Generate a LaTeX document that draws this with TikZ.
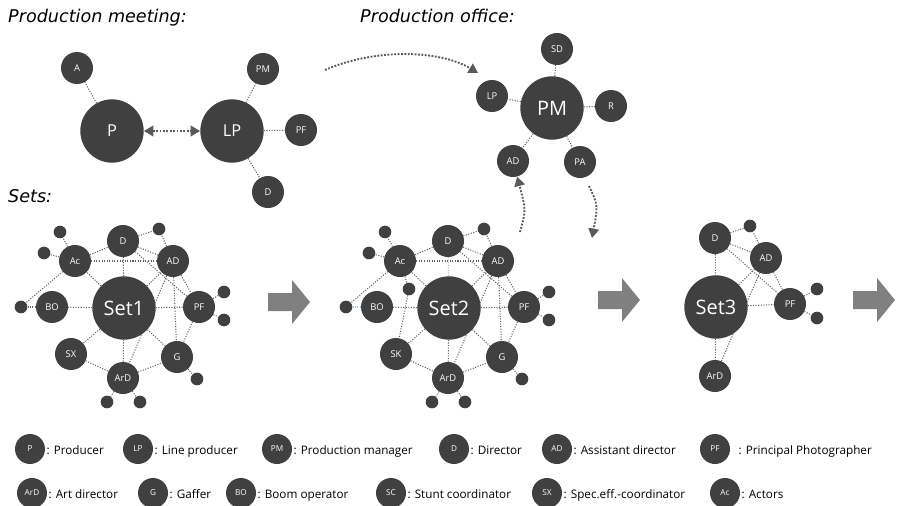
\documentclass[tikz,border=0pt]{standalone}
\usepackage{fontspec}
\setmainfont{Open Sans}
\newfontfamily\headfont{DejaVu Sans}
\usetikzlibrary{arrows.meta,positioning,backgrounds}
\definecolor{nodegray}{HTML}{404040}
\definecolor{linkgray}{HTML}{606060}
\definecolor{linkblue}{HTML}{A8C0D8}
\definecolor{arrowgray}{HTML}{808080}
\definecolor{flowgray}{HTML}{5A5A5A}
\begin{document}
\begin{tikzpicture}[x=0.03cm,y=-0.03cm]
	\tikzset{
		big/.style={circle,fill=nodegray,text=white,inner sep=0pt,minimum size=1.9cm,font=\fontsize{14}{16}\selectfont},
		hub/.style={big,font=\fontsize{17}{19}\selectfont},
		role/.style={circle,fill=nodegray,text=white,inner sep=0pt,minimum size=0.96cm,font=\fontsize{8}{9}\selectfont},
		extra/.style={circle,fill=nodegray,inner sep=0pt,minimum size=0.38cm},
		key/.style={role,minimum size=0.9cm,font=\fontsize{7}{8}\selectfont},
		keytext/.style={inner sep=0pt,anchor=base west,font=\fontsize{10}{12}\selectfont},
		head/.style={anchor=base west,inner sep=0pt,font=\headfont\itshape\fontsize{15}{17}\selectfont},
		link/.style={draw=linkgray,line width=0.9pt,line cap=butt,dash pattern=on 0.9pt off 1.3pt},
		flow/.style={draw=flowgray,line width=1.6pt,line cap=butt,dash pattern=on 1.6pt off 1.3pt,-{Triangle[length=8pt,width=9pt]}},
		blockarrow/.pic={\fill[arrowgray] (0,-9)--(24,-9)--(24,-22)--(42,0)--(24,22)--(24,9)--(0,9)--cycle;}
	}
	\useasboundingbox (0,0) rectangle (901,505);
	% headings
	\node[head] (hmeet) at (8,23) {Production meeting:};
	\node[head] (hoffice) at (360,23) {Production office:};
	\node[head] (hsets) at (8,202) {Sets:};
	% production meeting
	\node[big] (P) at (112,131) {P};
	\node[role] (A) at (77,68) {A};
	\node[big] (LP) at (232,131) {LP};
	\node[role] (LPpm) at (263,69) {PM};
	\node[role] (LPpf) at (301,130) {PF};
	\node[role] (LPd) at (268,192) {D};
	\draw[link] (P) -- (A);
	\foreach \r in {LPpm,LPpf,LPd}
		\draw[link] (LP) -- (\r);
	\draw[flow,{Triangle[length=8pt,width=9pt]}-{Triangle[length=8pt,width=9pt]}] (P) -- (LP);
	% production office
	\node[hub] (PM) at (552,108) {PM};
	\node[role] (oSD) at (557,49) {SD};
	\node[role] (oLP) at (492,96) {LP};
	\node[role] (oR) at (611,106) {R};
	\node[role] (oAD) at (513,161) {AD};
	\node[role] (oPA) at (580,162) {PA};
	\foreach \r in {oSD,oLP,oR,oAD,oPA}
		\draw[link] (PM) -- (\r);
	\coordinate (meetout) at (325,70);
	\coordinate (officein) at (478,73);
	\draw[flow] (meetout) .. controls (375,48) and (440,50) .. (officein);
	% sets 1 and 2
	\foreach \n/\dx/\fx/\vc in {1/0/SX/linkgray,2/325/SK/linkblue}{
		\begin{scope}[shift={(\dx,0)}]
			\node[hub] (s\n-Set) at (124,308) {Set\n};
			\node[role] (s\n-D) at (123,241) {D};
			\node[role] (s\n-Ac) at (75,261) {Ac};
			\node[role] (s\n-AD) at (173,261) {AD};
			\node[role] (s\n-PF) at (199,307) {PF};
			\node[role] (s\n-G) at (177,357) {G};
			\node[role] (s\n-ArD) at (123,378) {ArD};
			\node[role] (s\n-FX) at (71,354) {\fx};
			\node[role] (s\n-BO) at (52,307) {BO};
			\node[extra] (s\n-d1) at (60,232) {};
			\node[extra] (s\n-d2) at (44,253) {};
			\node[extra] (s\n-d3) at (159,229) {};
			\node[extra] (s\n-d4) at (21,307) {};
			\node[extra] (s\n-d5) at (224,292) {};
			\node[extra] (s\n-d6) at (224,320) {};
			\node[extra] (s\n-d7) at (197,379) {};
			\node[extra] (s\n-d8) at (107,402) {};
			\node[extra] (s\n-d9) at (140,402) {};
		\end{scope}
		\begin{pgfonlayer}{background}
			\foreach \a/\b in {Set/Ac,Set/AD,Set/PF,Set/G,Set/ArD,Set/FX,Set/BO,
				Ac/D,D/AD,Ac/AD,D/PF,AD/PF,AD/G,AD/ArD,PF/G,ArD/G,FX/ArD,
				Ac/d1,Ac/d2,Ac/d4,D/d3,AD/d3,PF/d5,PF/d6,G/d7,ArD/d8,ArD/d9}
				\draw[link] (s\n-\a) -- (s\n-\b);
			\draw[link,draw=\vc] (s\n-Set) -- (s\n-D);
			\draw[link,draw=\vc] (s\n-BO) -- (s\n-d4);
		\end{pgfonlayer}
	}
	\node[extra] (s2-x) at (409,289) {};
	\begin{pgfonlayer}{background}
		\draw[link] (s2-Ac) -- (s2-x) -- (s2-FX);
	\end{pgfonlayer}
	% set 3
	\node[hub] (s3-Set) at (716,307) {Set3};
	\node[role] (s3-D) at (715,238) {D};
	\node[role] (s3-AD) at (766,258) {AD};
	\node[role] (s3-PF) at (790,304) {PF};
	\node[role] (s3-ArD) at (715,376) {ArD};
	\node[extra] (s3-e1) at (750,226) {};
	\node[extra] (s3-e2) at (817,289) {};
	\node[extra] (s3-e3) at (817,318) {};
	\begin{pgfonlayer}{background}
		\foreach \a/\b in {D/e1,AD/e1,D/AD,D/PF,D/Set,AD/Set,AD/PF,Set/PF,Set/ArD,ArD/AD,PF/e2,PF/e3}
			\draw[link] (s3-\a) -- (s3-\b);
	\end{pgfonlayer}
	% set changes
	\coordinate (setout) at (520,232);
	\coordinate (officeout) at (589,186);
	\coordinate (setin) at (592,238);
	\draw[flow] (setout) .. controls (526,210) .. (oAD);
	\draw[flow] (officeout) .. controls (598,205) .. (setin);
	\pic at (268,302) {blockarrow};
	\pic at (598,300) {blockarrow};
	\pic at (853,300) {blockarrow};
	% legend
	\foreach \k/\x/\y/\gap/\txt in {P/30/449/1pt/Producer,LP/138/449/1pt/Line producer,
		PM/277/449/1pt/Production manager,D/454/449/1pt/Director,AD/557/449/1pt/Assistant director,
		PF/715/449/7pt/Principal Photographer,ArD/32/493/1pt/Art director,G/153/493/1pt/Gaffer,
		BO/241/493/1pt/Boom operator,SC/391/493/1pt/Stunt coordinator,
		SX/547/493/1pt/Spec.eff.-coordinator,Ac/725/493/1pt/Actors}{
		\node[key] (k\k) at (\x,\y) {\k};
		\node[keytext] at ([xshift=\gap,yshift=-4.7pt]k\k.east) {: \txt};
	}
\end{tikzpicture}
\end{document}
